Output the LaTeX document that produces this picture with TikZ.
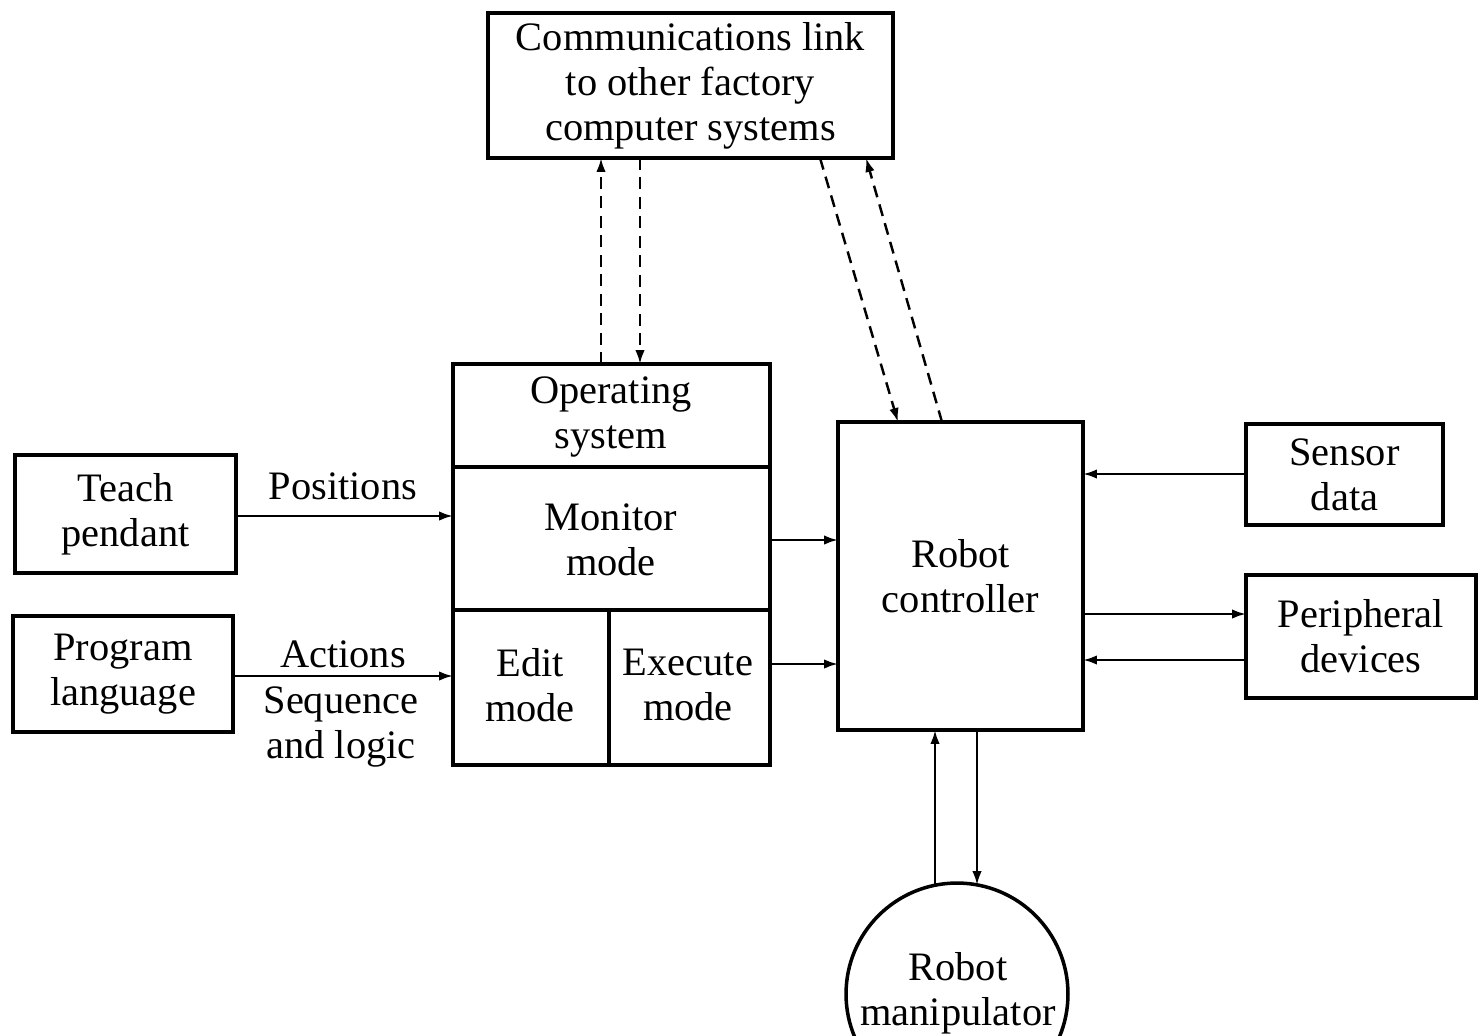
\documentclass[tikz,border=0pt]{standalone}
\usepackage{fontspec}
\setmainfont{Liberation Serif}
\usetikzlibrary{arrows.meta}
\begin{document}
\begin{tikzpicture}[x=0.02cm,y=-0.02cm,
  txt/.style={font=\fontsize{23}{25.6}\selectfont, align=center, inner sep=0pt},
  box/.style={draw, line width=2pt, inner sep=0pt, outer sep=0pt, font=\fontsize{23}{25.6}\selectfont, align=center},
  arr/.style={line width=1.4pt, -{Latex[length=0.28cm,width=0.19cm]}},
  darr/.style={arr, dash pattern=on 0.24cm off 0.15cm}]
\clip (0,0) rectangle (1479,1035);
\fill[white] (0,0) rectangle (1479,1035);

\node[box, minimum width=8.1cm, minimum height=2.9cm] (comm) at (690.5,85.5) {Communications link\\to other factory\\computer systems};
\node[box, minimum width=6.34cm, minimum height=8.02cm] (os) at (611.5,564.5) {};
\draw[line width=2pt] (os.west |- 0,467) -- (os.east |- 0,467);
\draw[line width=2pt] (os.west |- 0,610) -- (os.east |- 0,610);
\draw[line width=2pt] (609,610) -- (os.south -| 609,0);
\node[txt] (ostxt) at (611,417) {Operating\\system};
\node[txt] (mon) at (611,540) {Monitor\\mode};
\node[txt] (edit) at (530,685) {Edit\\mode};
\node[txt] (exec) at (688,685) {Execute\\mode};

\node[box, minimum width=4.42cm, minimum height=2.36cm] (teach) at (125.5,514) {Teach\\pendant};
\node[box, minimum width=4.4cm, minimum height=2.32cm] (prog) at (123,674) {Program\\language};
\node[box, minimum width=4.9cm, minimum height=6.16cm] (rc) at (960.5,576) {Robot\\controller};
\node[box, minimum width=3.94cm, minimum height=2.02cm] (sensor) at (1344.5,474.5) {Sensor\\data};
\node[box, minimum width=4.6cm, minimum height=2.46cm] (periph) at (1361,636.5) {Peripheral\\devices};
\node[box, circle, minimum size=4.44cm] (man) at (957,994) {};
\node[txt] (mantxt) at (958,993) {Robot\\manipulator};

\node[txt] (pos) at (343,486) {Positions};
\node[txt] (act) at (343,654) {Actions};
\node[txt] (seq) at (341,727) {Sequence\\and logic};

\draw[arr] (teach.east |- 0,516) -- (os.west |- 0,516);
\draw[arr] (prog.east |- 0,676) -- (os.west |- 0,676);
\draw[arr] (os.east |- 0,540) -- (rc.west |- 0,540);
\draw[arr] (os.east |- 0,664) -- (rc.west |- 0,664);
\draw[arr] (sensor.west |- 0,474) -- (rc.east |- 0,474);
\draw[arr] (rc.east |- 0,614) -- (periph.west |- 0,614);
\draw[arr] (periph.west |- 0,660) -- (rc.east |- 0,660);
\draw[arr] (man.101.4 -| 935,0) -- (rc.south -| 935,0);
\draw[arr] (rc.south -| 977,0) -- (man.79.6 -| 977,0);

\draw[darr] (os.north -| 601,0) -- (comm.south -| 601,0);
\draw[darr] (comm.south -| 640,0) -- (os.north -| 640,0);
\draw[darr] (comm.south -| 820,0) -- (rc.north -| 898,0);
\draw[darr] (rc.north -| 942,0) -- (comm.south -| 866,0);
\end{tikzpicture}
\end{document}
